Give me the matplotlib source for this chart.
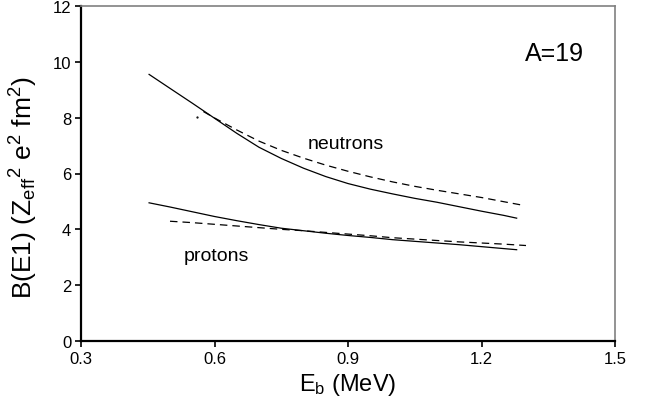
import matplotlib
matplotlib.use("Agg")
import matplotlib.pyplot as plt

plt.rcParams['font.family'] = ['Liberation Sans', 'DejaVu Sans']
plt.rcParams['mathtext.fontset'] = 'custom'
plt.rcParams['mathtext.rm'] = 'Liberation Sans'
plt.rcParams['mathtext.it'] = 'Liberation Sans:italic'

# Neutrons
n_solid_x = [0.453, 0.50, 0.55, 0.60, 0.65, 0.70, 0.75, 0.80, 0.85, 0.90,
             0.95, 1.00, 1.05, 1.10, 1.15, 1.20, 1.25, 1.279]
n_solid_y = [9.55, 9.05, 8.52, 7.98, 7.44, 6.94, 6.54, 6.19, 5.89, 5.64,
             5.44, 5.27, 5.11, 4.97, 4.81, 4.65, 4.50, 4.40]
n_dash_x = [0.575, 0.60, 0.65, 0.70, 0.75, 0.80, 0.85, 0.90, 0.95, 1.00,
            1.05, 1.10, 1.15, 1.20, 1.25, 1.287]
n_dash_y = [8.22, 7.99, 7.56, 7.16, 6.83, 6.55, 6.30, 6.08, 5.88, 5.70,
            5.54, 5.40, 5.27, 5.14, 4.99, 4.88]
# Protons
p_solid_x = [0.453, 0.50, 0.55, 0.60, 0.65, 0.70, 0.75, 0.80, 0.85, 0.90,
             0.95, 1.00, 1.05, 1.10, 1.15, 1.20, 1.25, 1.279]
p_solid_y = [4.95, 4.80, 4.63, 4.46, 4.31, 4.17, 4.04, 3.95, 3.86, 3.78,
             3.71, 3.63, 3.57, 3.51, 3.45, 3.38, 3.31, 3.27]
p_dash_x = [0.50, 0.55, 0.60, 0.65, 0.70, 0.75, 0.80, 0.85, 0.90, 0.95,
            1.00, 1.05, 1.10, 1.15, 1.20, 1.25, 1.30]
p_dash_y = [4.29, 4.24, 4.18, 4.12, 4.06, 4.00, 3.95, 3.89, 3.83, 3.77,
            3.70, 3.65, 3.60, 3.55, 3.51, 3.47, 3.42]

x_ticks = [0.3, 0.6, 0.9, 1.2, 1.5]
x_tick_labels = ['0.3', '0.6', '0.9', '1.2', '1.5']
y_ticks = [0, 2, 4, 6, 8, 10, 12]

fig = plt.figure(figsize=(6.51, 4.10), dpi=100)
ax = fig.add_axes([81/651, 1 - 342/410, (615 - 81)/651, (342 - 7)/410])

lw = 0.9
ax.plot(n_solid_x, n_solid_y, color='black', lw=lw)
ax.plot(n_dash_x, n_dash_y, color='black', lw=lw, dashes=(6, 4))
ax.plot(p_solid_x, p_solid_y, color='black', lw=lw)
ax.plot(p_dash_x, p_dash_y, color='black', lw=lw, dashes=(6, 4))
ax.plot([0.561], [8.03], marker='.', ms=1.2, color='black')

ax.set_xlim(0.3, 1.5)
ax.set_ylim(0, 12)
ax.set_xticks(x_ticks)
ax.set_xticklabels(x_tick_labels)
ax.set_yticks(y_ticks)
ax.tick_params(direction='out', length=4, width=1.2, labelsize=12, pad=3, color='black')

for s in ['left', 'bottom']:
    ax.spines[s].set_color('black')
    ax.spines[s].set_linewidth(1.6)
for s in ['top', 'right']:
    ax.spines[s].set_color('#808080')
    ax.spines[s].set_linewidth(1.2)

ax.set_xlabel(r'E$_\mathregular{b}$ (MeV)', fontsize=17, labelpad=4)
ax.set_ylabel(r'B(E1) (Z$_\mathregular{eff}$$^\mathregular{2}$ e$^\mathregular{2}$ fm$^\mathregular{2}$)',
              fontsize=19)
ax.yaxis.set_label_coords(-0.077, 0.46)

ax.text(0.81, 7.07, 'neutrons', fontsize=14, va='center', ha='left')
ax.text(0.53, 3.05, 'protons', fontsize=14, va='center', ha='left')
ax.text(1.297, 10.3, 'A=19', fontsize=18, va='center', ha='left')

fig.savefig('out.png', dpi=100)
